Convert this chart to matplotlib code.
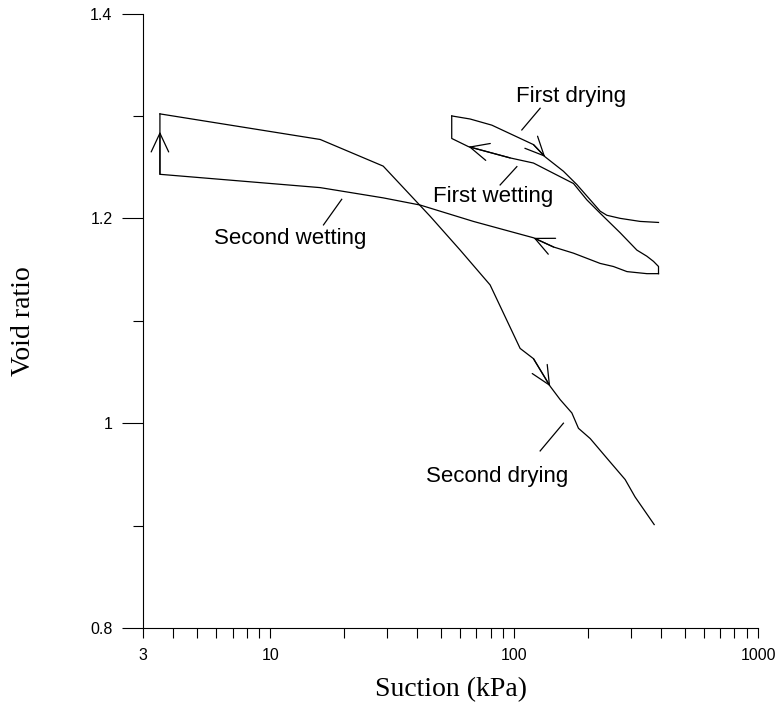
import numpy as np
import matplotlib
matplotlib.use("Agg")
import matplotlib.pyplot as plt
from matplotlib.ticker import FixedLocator, NullFormatter

# Datos: succion [kPa] y relacion de vacios
s_sec_dry = [3.52, 16.0, 29.0, 45.2, 60.0, 79.6, 105.7, 119.9, 140.4, 154.3,
             172.3, 183.4, 204.9, 243.5, 285, 313, 375]
e_sec_dry = [1.302, 1.277, 1.251, 1.202, 1.169, 1.135, 1.073, 1.063, 1.036, 1.023,
             1.010, 0.995, 0.985, 0.964, 0.945, 0.928, 0.901]

s_sec_wet = [390.6, 350, 290, 255, 225, 175, 145, 120, 90.3, 68.0, 56.3,
             41.1, 29.0, 16.0, 3.52, 3.52]
e_sec_wet = [1.146, 1.146, 1.148, 1.153, 1.156, 1.166, 1.172, 1.181, 1.189, 1.197, 1.203,
             1.213, 1.220, 1.230, 1.243, 1.302]

s_first_dry = [55.4, 65.9, 80.9, 119.9, 133.9, 159.1, 180.6, 225.1, 239.8, 271.7, 328.4, 390.6]
e_first_dry = [1.300, 1.297, 1.291, 1.272, 1.260, 1.246, 1.233, 1.207, 1.203, 1.200, 1.197, 1.196]

s_first_wet = [390.6, 390.6, 372.5, 350, 318.4, 271.7, 225.1, 198.6, 175, 144.8, 119.9,
               96.2, 64.9, 55.4, 55.4]
e_first_wet = [1.146, 1.153, 1.158, 1.163, 1.169, 1.186, 1.205, 1.218, 1.234, 1.244, 1.254,
               1.259, 1.270, 1.278, 1.300]

xticks = [3, 10, 100, 1000]
xticklabels = ["3", "10", "100", "1000"]
xminor = [4, 5, 6, 7, 8, 9, 20, 30, 40, 50, 60, 70, 80, 90,
          200, 300, 400, 500, 600, 700, 800, 900]
yticks = [0.8, 1.0, 1.2, 1.4]
yticklabels = ["0.8", "1", "1.2", "1.4"]
yminor = [0.9, 1.1, 1.3]

sans = "Liberation Sans"
serif = "Liberation Serif"
lw = 0.9

fig = plt.figure(figsize=(7.81, 7.11), dpi=100)
ax = fig.add_axes([0.1831, 0.1167, 0.7875, 0.8643])

ax.plot(s_sec_dry, e_sec_dry, "-", color="black", lw=lw)
ax.plot(s_sec_wet, e_sec_wet, "-", color="black", lw=lw)
ax.plot(s_first_dry, e_first_dry, "-", color="black", lw=lw)
ax.plot(s_first_wet, e_first_wet, "-", color="black", lw=lw)

# flechas abiertas sobre las curvas
def flecha(tip, tail):
    ax.annotate("", xy=tip, xytext=tail,
                arrowprops=dict(arrowstyle="->, head_length=13.5, head_width=6.3",
                                mutation_scale=1, color="black", lw=lw,
                                shrinkA=0, shrinkB=0))

flecha((s_sec_dry[8], e_sec_dry[8]), (s_sec_dry[7], e_sec_dry[7]))
flecha((s_sec_wet[7], e_sec_wet[7]), (s_sec_wet[6], e_sec_wet[6]))
flecha((s_first_dry[4], e_first_dry[4]), (s_first_dry[3], e_first_dry[3]))
flecha((s_first_wet[12], e_first_wet[12]), (s_first_wet[11], e_first_wet[11]))
flecha((3.52, 1.2846), (3.52, 1.243))

# etiquetas con linea guia
ax.plot([16.5, 19.6], [1.1936, 1.2186], "-", color="black", lw=lw)
ax.text(12.1, 1.175, "Second wetting", ha="center", va="baseline", fontsize=16, family=sans)
ax.plot([159.1, 127.7], [1.000, 0.9729], "-", color="black", lw=lw)
ax.text(85.2, 0.9424, "Second drying", ha="center", va="baseline", fontsize=16, family=sans)
ax.plot([127.7, 107.4], [1.3075, 1.2863], "-", color="black", lw=lw)
ax.text(171.7, 1.3139, "First drying", ha="center", va="baseline", fontsize=16, family=sans)
ax.plot([87.5, 102.5], [1.2326, 1.2505], "-", color="black", lw=lw)
ax.text(82.1, 1.2163, "First wetting", ha="center", va="baseline", fontsize=16, family=sans)

ax.set_xscale("log")
ax.set_xlim(3, 1000)
ax.set_ylim(0.8, 1.4)
ax.xaxis.set_major_locator(FixedLocator(xticks))
ax.set_xticklabels(xticklabels)
ax.xaxis.set_minor_locator(FixedLocator(xminor))
ax.xaxis.set_minor_formatter(NullFormatter())
ax.set_yticks(yticks)
ax.set_yticklabels(yticklabels)
ax.yaxis.set_minor_locator(FixedLocator(yminor))

ax.spines["top"].set_visible(False)
ax.spines["right"].set_visible(False)
ax.spines["left"].set_linewidth(0.8)
ax.spines["bottom"].set_linewidth(0.8)

ax.tick_params(axis="x", which="both", direction="out", length=7.2, width=0.8, pad=7)
ax.tick_params(axis="y", which="major", direction="out", length=15, width=0.8, pad=7)
ax.tick_params(axis="y", which="minor", direction="out", length=7.2, width=0.8)
for lab in ax.get_xticklabels() + ax.get_yticklabels():
    lab.set_fontfamily(sans)
    lab.set_fontsize(11.5)

ax.set_xlabel("Suction (kPa)", fontsize=20, family=serif, va="center")
ax.xaxis.set_label_coords(0.5, -0.101)
ax.set_ylabel("Void ratio", fontsize=20, family=serif, va="center")
ax.yaxis.set_label_coords(-0.195, 0.5)

fig.savefig("out.png", dpi=100)
